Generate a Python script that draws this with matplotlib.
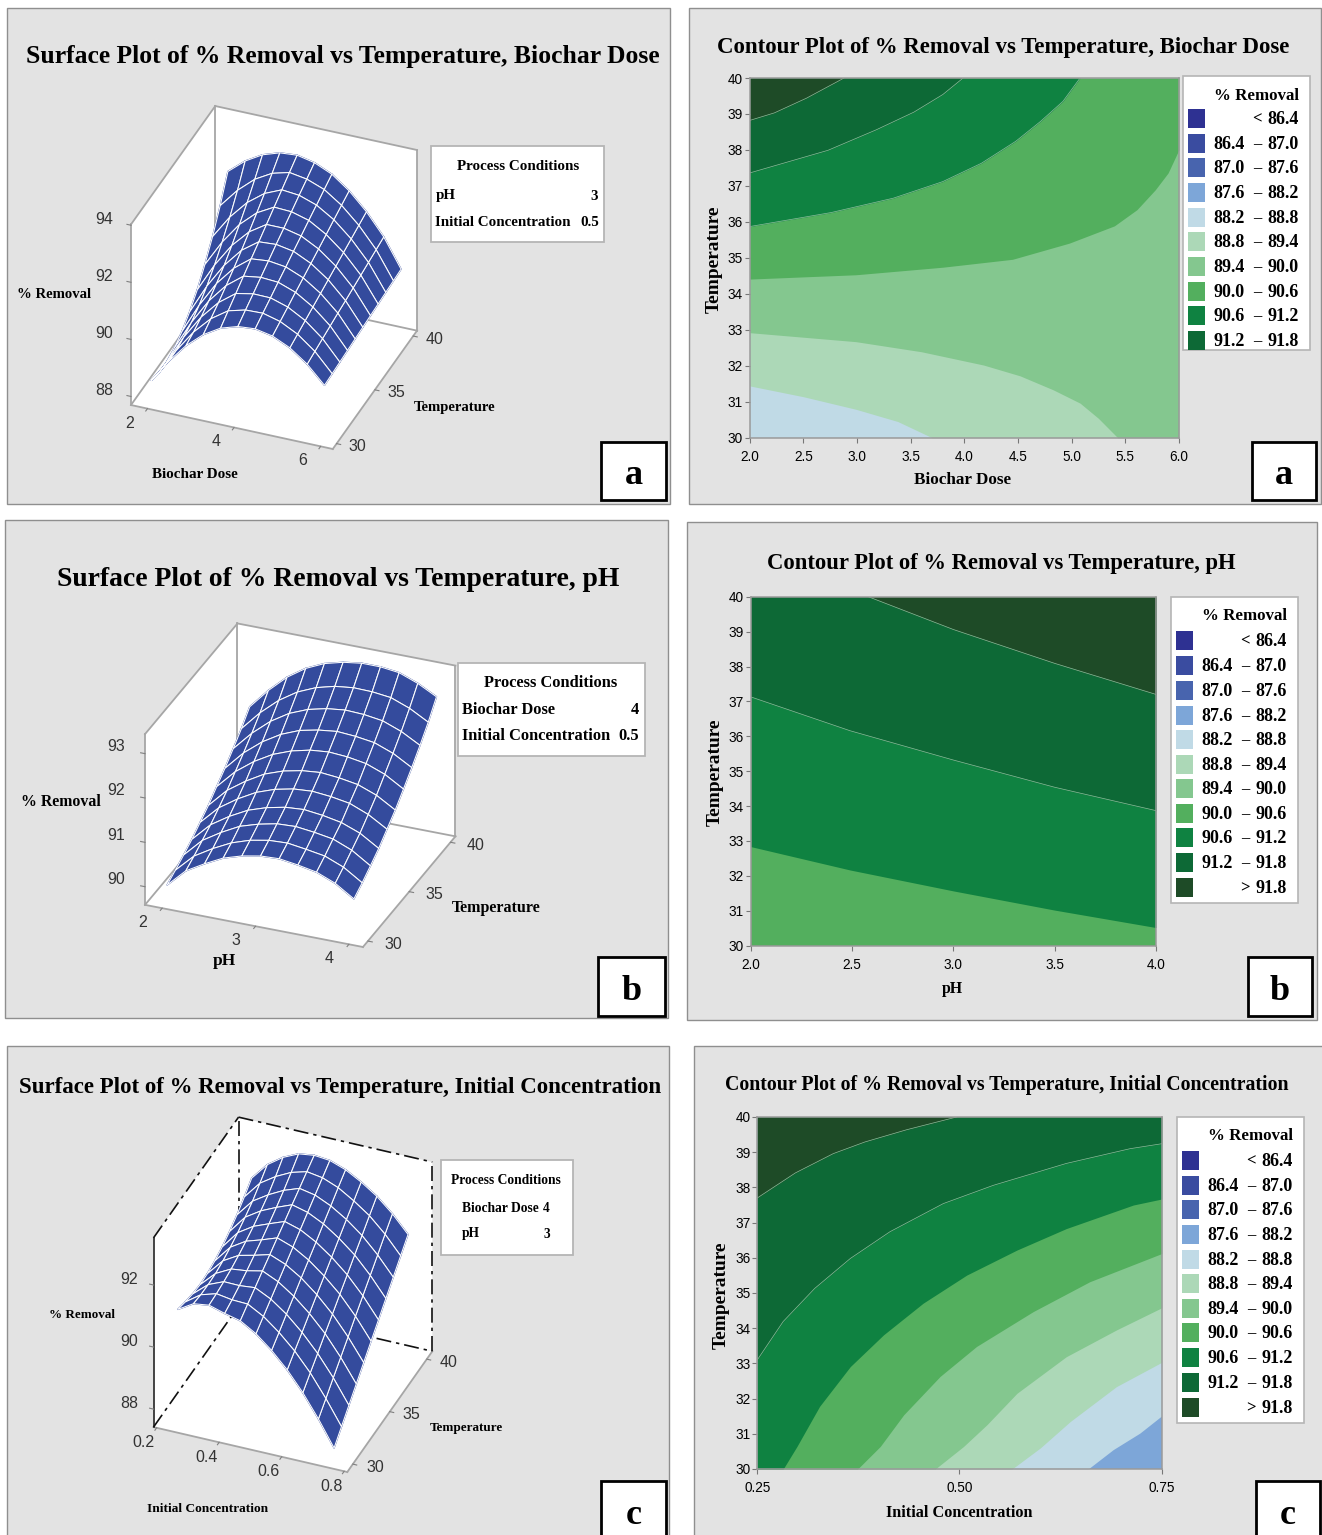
import numpy as np
import matplotlib
matplotlib.use("Agg")
import matplotlib.pyplot as plt
from matplotlib.patches import Rectangle
from mpl_toolkits.mplot3d import proj3d
from mpl_toolkits.mplot3d.art3d import Poly3DCollection

W, H = 1322, 1535
SERIF = "Liberation Serif"
SANS = "Liberation Sans"

# ---------- data ----------
temps = [30, 31, 32, 33, 34, 35, 36, 37, 38, 39, 40]
dose_grid = [2.0, 2.4, 2.8, 3.2, 3.6, 4.0, 4.4, 4.8, 5.2, 5.6, 6.0]
ph_grid = [2.0, 2.2, 2.4, 2.6, 2.8, 3.0, 3.2, 3.4, 3.6, 3.8, 4.0]
conc_grid = [0.25, 0.30, 0.35, 0.40, 0.45, 0.50, 0.55, 0.60, 0.65, 0.70, 0.75]

# one row per x value, one column per temperature
removal_dose = [
    [88.5, 88.39, 88.39, 88.5, 88.7, 89.01, 89.41, 89.92, 90.52, 91.23, 92.05],
    [89.3, 89.3, 89.4, 89.54, 89.76, 90.05, 90.41, 90.84, 91.34, 91.9, 92.55],
    [89.98, 90.08, 90.23, 90.42, 90.65, 90.91, 91.23, 91.59, 91.98, 92.42, 92.9],
    [90.5, 90.68, 90.87, 91.09, 91.32, 91.57, 91.84, 92.13, 92.43, 92.76, 93.1],
    [90.86, 91.09, 91.32, 91.55, 91.78, 92.0, 92.23, 92.46, 92.69, 92.92, 93.15],
    [91.05, 91.25, 91.44, 91.64, 91.84, 92.04, 92.23, 92.43, 92.63, 92.82, 93.02],
    [91.1, 91.27, 91.43, 91.6, 91.76, 91.93, 92.09, 92.26, 92.42, 92.59, 92.75],
    [90.98, 91.11, 91.24, 91.38, 91.51, 91.64, 91.77, 91.9, 92.04, 92.17, 92.3],
    [90.7, 90.8, 90.9, 91.0, 91.1, 91.2, 91.3, 91.4, 91.5, 91.6, 91.7],
    [90.26, 90.33, 90.4, 90.47, 90.54, 90.6, 90.67, 90.74, 90.81, 90.88, 90.95],
    [89.65, 89.68, 89.71, 89.74, 89.77, 89.8, 89.83, 89.86, 89.89, 89.92, 89.95],
]
removal_ph = [
    [89.98, 90.09, 90.21, 90.34, 90.5, 90.66, 90.86, 91.05, 91.27, 91.5, 91.77],
    [90.38, 90.49, 90.62, 90.75, 90.91, 91.08, 91.28, 91.48, 91.7, 91.94, 92.22],
    [90.62, 90.74, 90.88, 91.02, 91.19, 91.37, 91.59, 91.81, 92.05, 92.3, 92.6],
    [90.83, 90.95, 91.1, 91.24, 91.42, 91.61, 91.83, 92.06, 92.31, 92.57, 92.88],
    [90.96, 91.09, 91.23, 91.38, 91.57, 91.76, 91.99, 92.23, 92.48, 92.75, 93.07],
    [91.04, 91.17, 91.32, 91.47, 91.66, 91.85, 92.09, 92.32, 92.58, 92.86, 93.18],
    [91.06, 91.19, 91.34, 91.5, 91.69, 91.89, 92.13, 92.37, 92.63, 92.91, 93.24],
    [91.0, 91.13, 91.29, 91.45, 91.65, 91.85, 92.1, 92.34, 92.61, 92.9, 93.24],
    [90.92, 91.06, 91.22, 91.37, 91.58, 91.78, 92.03, 92.28, 92.55, 92.85, 93.19],
    [90.75, 90.89, 91.05, 91.21, 91.41, 91.62, 91.87, 92.12, 92.39, 92.69, 93.03],
    [90.48, 90.62, 90.78, 90.95, 91.16, 91.37, 91.62, 91.88, 92.16, 92.46, 92.81],
]
removal_conc = [
    [91.1, 91.0, 90.92, 90.88, 90.9, 90.97, 91.08, 91.24, 91.44, 91.68, 91.95],
    [91.4, 91.35, 91.34, 91.36, 91.43, 91.53, 91.66, 91.82, 92.0, 92.24, 92.5],
    [91.47, 91.5, 91.55, 91.62, 91.72, 91.84, 91.98, 92.14, 92.32, 92.57, 92.85],
    [91.32, 91.42, 91.54, 91.68, 91.84, 92.0, 92.18, 92.37, 92.58, 92.82, 93.08],
    [91.2, 91.4, 91.59, 91.79, 91.98, 92.18, 92.37, 92.57, 92.76, 92.96, 93.15],
    [90.9, 91.12, 91.34, 91.56, 91.78, 92.0, 92.22, 92.44, 92.66, 92.88, 93.1],
    [90.48, 90.72, 90.97, 91.21, 91.46, 91.7, 91.94, 92.19, 92.43, 92.68, 92.92],
    [89.97, 90.24, 90.5, 90.77, 91.04, 91.3, 91.57, 91.84, 92.11, 92.37, 92.64],
    [89.35, 89.65, 89.94, 90.24, 90.53, 90.83, 91.12, 91.42, 91.71, 92.01, 92.3],
    [88.62, 88.94, 89.27, 89.59, 89.91, 90.24, 90.56, 90.88, 91.2, 91.53, 91.85],
    [87.8, 88.15, 88.5, 88.85, 89.2, 89.55, 89.9, 90.25, 90.6, 90.95, 91.3],
]

# contour boundaries: (x values, temperature values), low level to high level
dose_c88_8 = ([2, 2.5, 2.99, 3.38, 3.7], [31.44, 31.14, 30.79, 30.45, 30])
dose_c89_4 = ([2, 2.99, 3.6, 4.18, 4.52, 4.83, 5.08, 5.25, 5.43], [32.92, 32.67, 32.39, 32.02, 31.72, 31.33, 30.96, 30.54, 30])
dose_c90_0 = ([2, 2.99, 3.8, 4.45, 4.98, 5.4, 5.61, 5.78, 5.9, 6], [34.41, 34.53, 34.74, 34.96, 35.41, 35.89, 36.34, 36.89, 37.36, 38.0])
dose_c90_6 = ([2, 2.76, 3.34, 3.8, 4.16, 4.48, 4.71, 4.92, 5.08], [35.87, 36.26, 36.66, 37.12, 37.63, 38.24, 38.79, 39.35, 40])
dose_c91_2 = ([2, 2.73, 3.18, 3.53, 3.8, 3.99], [37.36, 37.99, 38.56, 39.05, 39.54, 40])
dose_c91_8 = ([2, 2.23, 2.53, 2.88], [38.82, 39.03, 39.44, 40])

ph_c90_6 = ([2, 2.49, 3, 3.5, 4], [32.84, 32.17, 31.57, 31.02, 30.52])
ph_c91_2 = ([2, 2.49, 3, 3.5, 4], [37.13, 36.16, 35.32, 34.54, 33.87])
ph_c91_8 = ([2.58, 3, 3.5, 4], [40, 39.06, 38.09, 37.2])

conc_c88_2 = ([0.659, 0.69, 0.723, 0.75], [30, 30.55, 31.02, 31.51])
conc_c88_8 = ([0.565, 0.6, 0.637, 0.694, 0.75], [30, 30.6, 31.35, 32.34, 33.03])
conc_c89_4 = ([0.47, 0.505, 0.534, 0.571, 0.632, 0.694, 0.75], [30, 30.64, 31.26, 32.15, 33.19, 33.95, 34.58])
conc_c90_0 = ([0.374, 0.402, 0.431, 0.476, 0.521, 0.591, 0.661, 0.75], [30, 30.64, 31.54, 32.63, 33.48, 34.47, 35.32, 36.12])
conc_c90_6 = ([0.282, 0.299, 0.327, 0.365, 0.406, 0.455, 0.509, 0.571, 0.632, 0.715, 0.75], [30, 30.64, 31.78, 32.91, 33.81, 34.71, 35.51, 36.22, 36.83, 37.5, 37.67])
conc_c91_2 = ([0.25, 0.282, 0.321, 0.365, 0.414, 0.48, 0.542, 0.632, 0.711, 0.75], [33.1, 34.19, 35.13, 35.98, 36.74, 37.54, 38.06, 38.68, 39.1, 39.24])
conc_c91_8 = ([0.25, 0.297, 0.344, 0.383, 0.435, 0.4965], [37.7, 38.41, 38.96, 39.29, 39.64, 40])

legend_low = ["", "86.4", "87.0", "87.6", "88.2", "88.8", "89.4", "90.0", "90.6", "91.2", ""]
legend_sign = ["<", "–", "–", "–", "–", "–", "–", "–", "–", "–", ">"]
legend_high = ["86.4", "87.0", "87.6", "88.2", "88.8", "89.4", "90.0", "90.6", "91.2", "91.8", "91.8"]
band_colors = ["#2E3192", "#3A4CA0", "#4864AE", "#7DA6D8", "#C0DAE6", "#ACD8B7", "#84C78F",
               "#53AF5E", "#0F8241", "#0D6936", "#1E4B27"]
SURF = "#344B9D"
PANEL = "#E3E3E3"

# ---------- helpers ----------
fig = plt.figure(figsize=(W / 100, H / 100), dpi=100, facecolor="white")
bg = fig.add_axes([0, 0, 1, 1], zorder=0)
bg.set_xlim(0, W)
bg.set_ylim(H, 0)
bg.axis("off")
rend = fig.canvas.get_renderer()


def fit(t, width):
    bb = t.get_window_extent(rend)
    t.set_fontsize(t.get_fontsize() * width / max(bb.width, bb.height))
    return t


def txt(x, y, s, width=None, size=11, family=SERIF, weight="bold", ha="center", color="black", rot=0):
    t = bg.text(x, y, s, fontsize=size, family=family, fontweight=weight, ha=ha, va="center",
                color=color, rotation=rot)
    if width:
        fit(t, width)
    return t


def panel(x0, y0, x1, y1):
    bg.add_patch(Rectangle((x0, y0), x1 - x0, y1 - y0, fc=PANEL, ec="#8F8F8F", lw=1.0))


def letter(x0, y0, x1, y1, s, ty):
    bg.add_patch(Rectangle((x0, y0), x1 - x0, y1 - y0, fc="white", ec="black", lw=2.0, zorder=5))
    bg.text((x0 + x1) / 2, ty, s, fontsize=26, family=SERIF, fontweight="bold",
            ha="center", va="center", zorder=6)


def process_box(x0, y0, x1, y1, title, tw, tx, ty, rows):
    bg.add_patch(Rectangle((x0, y0), x1 - x0, y1 - y0, fc="white", ec="#B5B5B5", lw=1.3))
    t = txt(tx, ty, title, width=tw)
    fs = t.get_fontsize()
    for (lx, rx, ry, name, val) in rows:
        txt(lx, ry, name, size=fs, ha="left")
        txt(rx, ry, val, size=fs, ha="right")


def surface(z_table, xs, xlim, tlim, zlim, elev, azim, aspect, target,
            xticks, xfmt, zticks, tticks, x_off, z_off, t_off, dashed=False):
    x0, x1 = xlim
    t0, t1 = tlim
    z0, z1 = zlim
    ax = fig.add_axes([0.1, 0.1, 0.3, 0.3 * W / H], projection="3d", proj_type="ortho",
                      computed_zorder=False, zorder=2)
    ax.set_xlim(x0, x1)
    ax.set_ylim(t0, t1)
    ax.set_zlim(z0, z1)
    ax.set_box_aspect(aspect)
    ax.view_init(elev=elev, azim=azim)
    ax.set_axis_off()
    ax.patch.set_visible(False)
    ax.margins(0)

    walls = [
        [(x0, t0, z0), (x1, t0, z0), (x1, t1, z0), (x0, t1, z0)],
        [(x0, t0, z0), (x0, t1, z0), (x0, t1, z1), (x0, t0, z1)],
        [(x0, t1, z0), (x1, t1, z0), (x1, t1, z1), (x0, t1, z1)],
    ]
    pc = Poly3DCollection(walls, facecolor="white", edgecolor="none", zorder=1)
    ax.add_collection3d(pc)

    gray = dict(color="#A6A6A6", lw=1.3, zorder=2)
    if dashed:
        solid = dict(color="#111111", lw=1.1, zorder=2)
        dash = dict(color="#111111", lw=1.2, ls=(0, (9, 3, 2, 3)), zorder=2)
    else:
        solid = gray
        dash = gray
    ax.plot([x0, x1], [t0, t0], [z0, z0], **gray)
    ax.plot([x1, x1], [t0, t1], [z0, z0], **gray)
    ax.plot([x0, x0], [t0, t1], [z0, z0], **dash)
    ax.plot([x0, x1], [t1, t1], [z0, z0], **dash)
    ax.plot([x0, x0], [t0, t0], [z0, z1], **solid)
    ax.plot([x0, x0], [t0, t1], [z1, z1], **dash)
    ax.plot([x0, x1], [t1, t1], [z1, z1], **dash)
    ax.plot([x0, x0], [t1, t1], [z0, z1], **dash)
    ax.plot([x1, x1], [t1, t1], [z0, z1], **dash)

    X, T = np.meshgrid(xs, temps, indexing="ij")
    ax.plot_surface(X, T, np.array(z_table), color=SURF, edgecolor=SURF, linewidth=1.0,
                    shade=False, rstride=1, cstride=1, zorder=3, antialiased=True)
    ax.plot_surface(X, T, np.array(z_table), color=SURF, edgecolor="white", linewidth=0.75,
                    shade=False, rstride=1, cstride=1, zorder=4, antialiased=True)

    dx = (x1 - x0) * 0.02
    dt = (t1 - t0) * 0.02
    tick = dict(color="#808080", lw=0.8, zorder=2)
    for v in zticks:
        ax.plot([x0, x0 - dx], [t0, t0], [v, v], **tick)
    for v in xticks:
        ax.plot([v, v], [t0, t0 - dt], [z0, z0], **tick)
    for v in tticks:
        ax.plot([x1, x1 + dx], [v, v], [z0, z0], **tick)

    # place the 3-D box on its target rectangle of the figure
    corners = np.array([[a, b, c] for a in xlim for b in tlim for c in zlim])

    def to_px(p):
        xp, yp, _ = proj3d.proj_transform(p[0], p[1], p[2], ax.get_proj())
        d = ax.transData.transform((xp, yp))
        return d[0], H - d[1]

    size = 400.0
    left, bottom = 100.0, 100.0
    for _ in range(3):
        ax.set_position([left / W, bottom / H, size / W, size / H])
        ax.apply_aspect()
        pts = np.array([to_px(p) for p in corners])
        cw = pts[:, 0].max() - pts[:, 0].min()
        ch = pts[:, 1].max() - pts[:, 1].min()
        k = 0.5 * ((target[2] - target[0]) / cw + (target[3] - target[1]) / ch)
        cx = pts[:, 0].min()
        cb = H - pts[:, 1].max()
        left = target[0] - (cx - left) * k
        bottom = (H - target[3]) - (cb - bottom) * k
        size *= k
    ax.set_position([left / W, bottom / H, size / W, size / H])
    ax.apply_aspect()

    lab = dict(family=SANS, size=11.5, weight="normal", color="#333333")
    for v in xticks:
        px, py = to_px((v, t0, z0))
        txt(px + x_off[0], py + x_off[1], xfmt(v), **lab)
    for v in zticks:
        px, py = to_px((x0, t0, v))
        txt(px + z_off[0], py + z_off[1], f"{v}", **lab)
    for v in tticks:
        px, py = to_px((x1, v, z0))
        txt(px + t_off[0], py + t_off[1], f"{v}", **lab)
    return ax


def contour(rect, xlim, xticks, xfmt, base_color, levels, line_from):
    ax = fig.add_axes([rect[0] / W, 1 - rect[3] / H, (rect[2] - rect[0]) / W, (rect[3] - rect[1]) / H], zorder=2)
    ax.set_xlim(*xlim)
    ax.set_ylim(30, 40)
    ax.set_facecolor(base_color)
    for i, (curve, color) in enumerate(levels):
        x = list(curve[0])
        y = list(curve[1])
        if y[0] == 30 and x[0] > xlim[0]:
            x.insert(0, xlim[0])
            y.insert(0, 30)
        if y[-1] == 30 and x[-1] < xlim[1]:
            x.append(xlim[1])
            y.append(30)
        ax.fill_between(x, y, 40, color=color, lw=0)
        if i >= line_from:
            ax.plot(curve[0], curve[1], color="#8DBE9C", lw=0.5)
    for s in ax.spines.values():
        s.set_color("#9A9A9A")
        s.set_linewidth(1.1)
    ax.set_xticks(xticks)
    ax.set_xticklabels([xfmt(v) for v in xticks], family=SANS, fontsize=9.8)
    ax.set_yticks(temps)
    ax.set_yticklabels([str(v) for v in temps], family=SANS, fontsize=9.8)
    ax.tick_params(length=3.5, width=0.8, color="#777777", pad=1.5)
    ax.tick_params(axis="x", pad=5)
    return ax


def legend(x0, y0, y1, centers, n):
    bg.add_patch(Rectangle((x0, y0), 127, y1 - y0, fc="white", ec="#B5B5B5", lw=1.2, zorder=2))
    bg.text(x0 + 116, y0 + 19.5, "% Removal", fontsize=12.2, family=SERIF, fontweight="bold",
            ha="right", va="center", zorder=3)
    for i in range(n):
        c = centers[i]
        bot = min(c + 9.5, y1)
        bg.add_patch(Rectangle((x0 + 5, c - 9.5), 17, bot - (c - 9.5), fc=band_colors[i], ec="none", zorder=3))
        if legend_low[i]:
            bg.text(x0 + 62, c + 1.5, legend_low[i], fontsize=13, family=SERIF, fontweight="bold",
                    ha="right", va="center", zorder=3)
        bg.text(x0 + 74, c + 1.5, legend_sign[i], fontsize=12, family=SERIF, fontweight="bold",
                ha="center", va="center", zorder=3)
        bg.text(x0 + 116, c + 1.5, legend_high[i], fontsize=13, family=SERIF, fontweight="bold",
                ha="right", va="center", zorder=3)


# ---------- panels ----------
panel(7, 8, 670, 504)
panel(689, 8, 1321, 504)
panel(5, 520, 668, 1018)
panel(687, 522, 1317, 1020)
panel(7, 1046, 669, 1545)
panel(694, 1046, 1330, 1545)

txt(343, 57, "Surface Plot of % Removal vs Temperature, Biochar Dose", width=635)
txt(1003, 48, "Contour Plot of % Removal vs Temperature, Biochar Dose", width=572)
txt(338, 579, "Surface Plot of % Removal vs Temperature, pH", width=563)
txt(1001, 564, "Contour Plot of % Removal vs Temperature, pH", width=469)
txt(340, 1087, "Surface Plot of % Removal vs Temperature, Initial Concentration", width=642)
txt(1007, 1085, "Contour Plot of % Removal vs Temperature, Initial Concentration", width=565)

# surfaces
surface(removal_dose, dose_grid, (1.62, 6.28), (29.5, 40.5), (87.7, 94.03), 33.6, -68.5,
        (217, 230, 217), (131, 106, 417, 449), [2, 4, 6], lambda v: f"{v}", [88, 90, 92, 94],
        [30, 35, 40], (-18, 14.5), (-27, -6), (21, 3))
surface(removal_ph, ph_grid, (1.816, 4.15), (29.4, 40.6), (89.59, 93.44), 28.75, -68.1,
        (234, 247, 194), (145, 623, 455, 947), [2, 3, 4], lambda v: f"{v}", [90, 91, 92, 93],
        [30, 35, 40], (-20, 14), (-29, -7), (25, 3))
surface(removal_conc, conc_grid, (0.19, 0.81), (29.25, 40.75), (87.42, 93.52), 35, -68,
        (209, 227, 231), (153.5, 1118, 433, 1472), [0.2, 0.4, 0.6, 0.8], lambda v: f"{v:.1f}",
        [88, 90, 92], [30, 35, 40], (-13, 15), (-24, -6), (22, 3), dashed=True)

txt(54, 295, "% Removal", width=74)
txt(195, 475, "Biochar Dose", width=86)
txt(455, 408, "Temperature", width=82)
txt(61, 802, "% Removal", width=80)
txt(224, 961, "pH", width=23)
txt(496, 908, "Temperature", width=89)
txt(82, 1315, "% Removal", width=66)
txt(208, 1509, "Initial Concentration", width=121)
txt(466, 1428, "Temperature", width=73)

process_box(431, 146, 604, 242, "Process Conditions", 122, 518, 167,
            [(436, 598, 196, "pH", "3"), (435, 599, 223, "Initial Concentration", "0.5")])
process_box(458, 663, 645, 756, "Process Conditions", 133, 551, 683,
            [(462, 639, 710, "Biochar Dose", "4"), (462, 639, 736, "Initial Concentration", "0.5")])
process_box(441, 1160, 573, 1255, "Process Conditions", 110, 506, 1181,
            [(462, 550, 1208, "Biochar Dose", "4"), (462, 550, 1234, "pH", "3")])

# contours
contour((749.7, 78, 1178.8, 437.7), (2, 6), [2, 2.5, 3, 3.5, 4, 4.5, 5, 5.5, 6], lambda v: f"{v:.1f}", band_colors[4],
        [(dose_c88_8, band_colors[5]), (dose_c89_4, band_colors[6]), (dose_c90_0, band_colors[7]),
         (dose_c90_6, band_colors[8]), (dose_c91_2, band_colors[9]), (dose_c91_8, band_colors[10])], 3)
contour((750.7, 596.7, 1156, 945.7), (2, 4), [2, 2.5, 3, 3.5, 4], lambda v: f"{v:.1f}", band_colors[7],
        [(ph_c90_6, band_colors[8]), (ph_c91_2, band_colors[9]), (ph_c91_8, band_colors[10])], 1)
contour((757.3, 1117, 1161.7, 1469), (0.25, 0.75), [0.25, 0.5, 0.75], lambda v: f"{v:.2f}", band_colors[3],
        [(conc_c88_2, band_colors[4]), (conc_c88_8, band_colors[5]), (conc_c89_4, band_colors[6]),
         (conc_c90_0, band_colors[7]), (conc_c90_6, band_colors[8]), (conc_c91_2, band_colors[9]),
         (conc_c91_8, band_colors[10])], 5)

txt(963, 480, "Biochar Dose", width=97)
txt(714, 259, "Temperature", width=108, rot=90)
txt(952, 989, "pH", width=21)
txt(715, 772, "Temperature", width=108, rot=90)
txt(959, 1513, "Initial Concentration", width=147)
txt(721, 1295, "Temperature", width=108, rot=90)

legend(1183, 76, 350, [118, 143, 167, 192, 217, 241, 266, 291, 315, 340], 10)
legend(1171, 597, 903, [640, 665, 690, 715, 739, 764, 788, 813, 837, 862, 887], 11)
legend(1177, 1117, 1423, [1160, 1185, 1209, 1234, 1259, 1283, 1308, 1332, 1357, 1382, 1407], 11)

letter(601, 442, 666, 500, "a", 476)
letter(1252, 442, 1316, 500, "a", 476)
letter(598, 957, 665, 1016, "b", 991)
letter(1248, 957, 1312, 1016, "b", 991)
letter(601, 1481, 666, 1545, "c", 1516)
letter(1256, 1481, 1320, 1545, "c", 1516)

fig.savefig("out.png", dpi=100, facecolor="white")
